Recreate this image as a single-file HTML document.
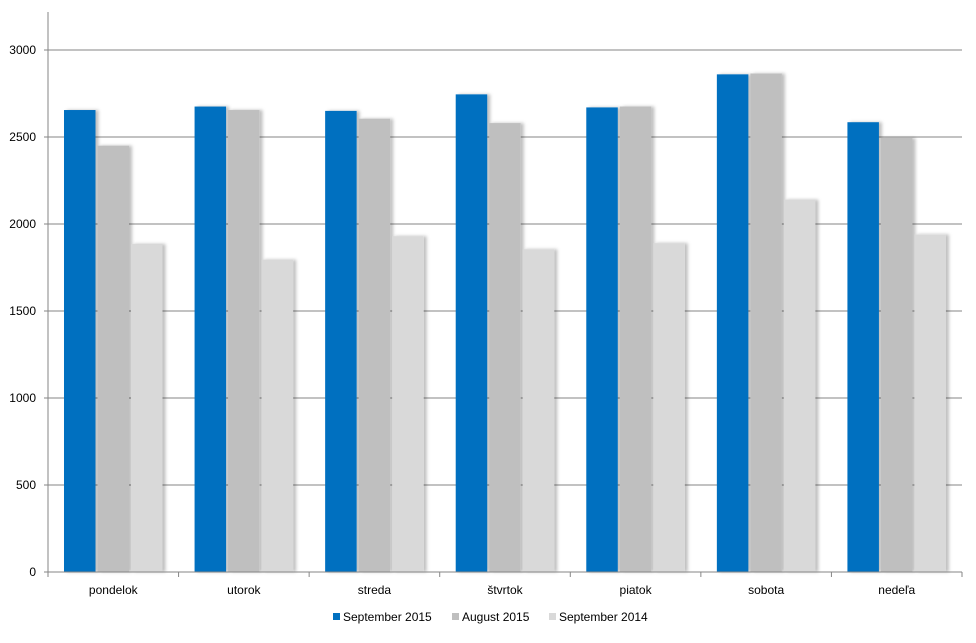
<!DOCTYPE html>
<html><head><meta charset="utf-8"><style>
body{margin:0;background:#fff;font-family:"Liberation Sans",sans-serif}
svg text{font-family:"Liberation Sans",sans-serif;font-size:12px;fill:#000}
</style></head><body>
<svg id="c" width="976" height="638"></svg>
<script>
const categories=["pondelok","utorok","streda","štvrtok","piatok","sobota","nedeľa"];
const sep2015=[2655,2675,2650,2745,2670,2860,2585];
const aug2015=[2450,2655,2605,2580,2675,2865,2495];
const sep2014=[1885,1795,1930,1855,1890,2140,1940];
const ticks=[0,500,1000,1500,2000,2500,3000];
const seriesNames=["September 2015","August 2015","September 2014"];
const colors=["#0070c0","#bfbfbf","#d9d9d9"];
const NS="http://www.w3.org/2000/svg";
const svg=document.getElementById('c');
const x0=48,x1=962,y0=572,yTop=50,yMax=3000;
const y=v=>y0-(v/yMax)*(y0-yTop);
const cw=(x1-x0)/categories.length;
function mk(t,a,txt){const e=document.createElementNS(NS,t);for(const k in a)e.setAttribute(k,a[k]);if(txt!=null)e.textContent=txt;svg.appendChild(e);return e;}
const defs=mk('defs',{});
defs.innerHTML='<filter id="sh" x="-20%" y="-5%" width="150%" height="110%"><feDropShadow dx="3" dy="0" stdDeviation="1.5" flood-color="#000" flood-opacity="0.25"/></filter>';
ticks.forEach(t=>{
  if(t>0){const g=mk('line',{x1:x0,x2:x1,y1:y(t),y2:y(t),stroke:'#868686','stroke-width':1});
  
  }
  const l=mk('text',{x:36,y:y(t)+4,'text-anchor':'end'},t);
  
  
  const tk=mk('line',{x1:x0-4,x2:x0,y1:y(t),y2:y(t),stroke:'#868686'});
  
  
});
const all=[sep2015,aug2015,sep2014];
categories.forEach((c,i)=>{
  const cx=x0+i*cw;
  all.forEach((s,j)=>{
    const bx=cx+16+j*33.5;
    const r=mk('rect',{x:bx,y:y(s[i]),width:31.5,height:y0-y(s[i]),fill:colors[j],filter:'url(#sh)'});
    
    
  });
  const l=mk('text',{x:cx+cw/2,y:594,'text-anchor':'middle'},c);
  
  
});
for(let i=0;i<=categories.length;i++){
  const tk=mk('line',{x1:x0+i*cw,x2:x0+i*cw,y1:y0,y2:y0+5,stroke:'#868686'});
  
  
}
const ax=mk('line',{x1:x0,x2:x0,y1:12,y2:y0,stroke:'#868686'});


const bx=mk('line',{x1:x0,x2:x1,y1:y0,y2:y0,stroke:'#868686'});


const lx=[333,452,549];
seriesNames.forEach((n,j)=>{
  const r=mk('rect',{x:lx[j],y:613,width:7,height:7,fill:colors[j]});
  
  
  const t=mk('text',{x:lx[j]+10,y:621,'font-size':'11'},n);
  
  
});
</script>
</body></html>
